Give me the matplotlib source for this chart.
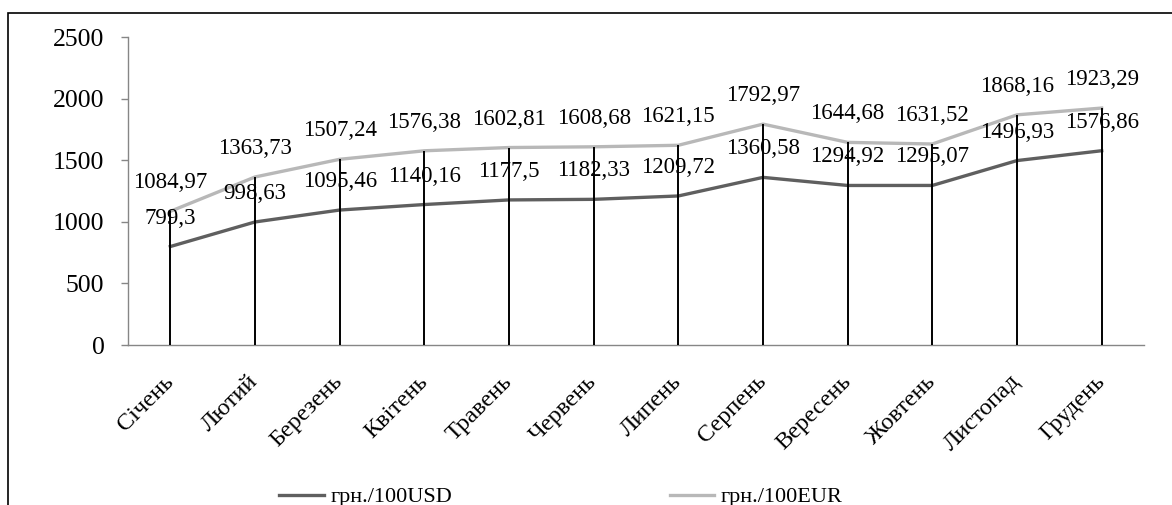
import matplotlib
matplotlib.use("Agg")
import matplotlib.pyplot as plt
from matplotlib.patches import Rectangle

# monthly exchange rates, UAH per 100 units
months = ["Січень", "Лютий", "Березень", "Квітень", "Травень", "Червень",
          "Липень", "Серпень", "Вересень", "Жовтень", "Листопад", "Грудень"]
usd = [799.3, 998.63, 1095.46, 1140.16, 1177.5, 1182.33,
       1209.72, 1360.58, 1294.92, 1295.07, 1496.93, 1576.86]
eur = [1084.97, 1363.73, 1507.24, 1576.38, 1602.81, 1608.68,
       1621.15, 1792.97, 1644.68, 1631.52, 1868.16, 1923.29]
yticks = [0, 500, 1000, 1500, 2000, 2500]

plt.rcParams["font.family"] = ["Liberation Serif", "DejaVu Serif"]

W, H = 1172, 505
fig = plt.figure(figsize=(W / 100, H / 100), dpi=100)
ax = fig.add_axes([128 / W, 1 - 345 / H, (1144 - 128) / W, (345 - 37) / H])

x = list(range(len(months)))

# drop lines from the axis to the higher of the two series
top = [max(a, b) for a, b in zip(usd, eur)]
ax.vlines(x, 0, top, colors="black", linewidth=1.4, zorder=3)

ax.plot(x, usd, color="#5f5f5f", linewidth=2.4, label="грн./100USD", zorder=2)
ax.plot(x, eur, color="#b8b8b8", linewidth=2.4, label="грн./100EUR", zorder=2)

for xi, v in zip(x, usd):
    ax.annotate(str(v).replace(".", ","), (xi, v), xytext=(0, 20.5),
                textcoords="offset points", ha="center", va="center",
                fontsize=16.5, zorder=4)
for xi, v in zip(x, eur):
    ax.annotate(str(v).replace(".", ","), (xi, v), xytext=(0, 20.5),
                textcoords="offset points", ha="center", va="center",
                fontsize=16.5, zorder=4)

ax.set_xlim(-0.5, len(months) - 0.5)
ax.set_ylim(0, 2500)
ax.set_yticks(yticks)
ax.set_yticklabels([str(t) for t in yticks], fontsize=18.5)
ax.set_xticks(x)
ax.set_xticklabels(months, fontsize=17.5, rotation=45, ha="right",
                   va="center", rotation_mode="anchor")
ax.tick_params(axis="x", length=0, pad=24)
ax.tick_params(axis="y", length=5, width=1, color="#868686", pad=12)

for side in ("top", "right"):
    ax.spines[side].set_visible(False)
for side in ("left", "bottom"):
    ax.spines[side].set_color("#868686")
    ax.spines[side].set_linewidth(1.0)

fig.legend(loc="center", bbox_to_anchor=(561 / W, 8 / H), ncol=2,
           frameon=False, fontsize=16, handlelength=2.0,
           handletextpad=0.3, columnspacing=9.8)

# chart frame
fig.patches.append(Rectangle((8 / W, -0.1), 1.2, 1 - 13 / H + 0.1,
                             transform=fig.transFigure, fill=False,
                             edgecolor="black", linewidth=1.2))

fig.savefig("out.png", dpi=100)
